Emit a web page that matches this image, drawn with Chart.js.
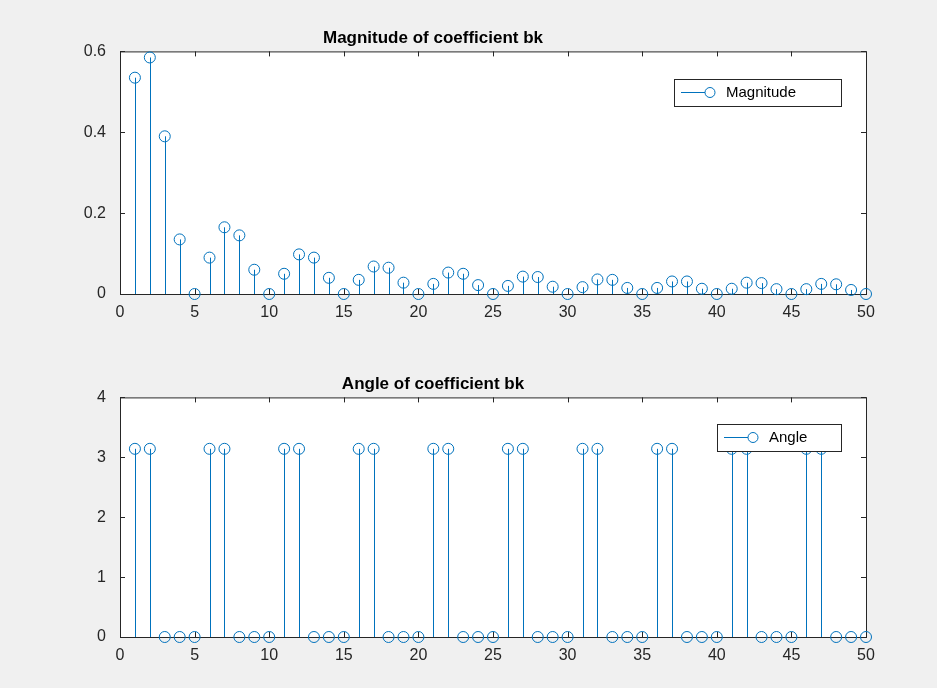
<!DOCTYPE html>
<html>
<head>
<meta charset="UTF-8">
<script src="https://cdn.jsdelivr.net/npm/chart.js"></script>
<style>
  body { margin: 0; background: #f0f0f0; }
  .wrap { position: absolute; left: 0; width: 937px; }
</style>
</head>
<body>
<div class="wrap" style="top:0;height:344px"><canvas id="magChart"></canvas></div>
<div class="wrap" style="top:344px;height:344px"><canvas id="angChart"></canvas></div>
<script>
const k = Array.from({length: 50}, (_, i) => i + 1);
const magnitude = [0.535, 0.585, 0.39, 0.135, 0, 0.09, 0.165, 0.145, 0.06, 0,
  0.05, 0.098, 0.09, 0.04, 0, 0.035, 0.068, 0.065, 0.028, 0,
  0.025, 0.053, 0.05, 0.022, 0, 0.02, 0.043, 0.042, 0.018, 0,
  0.017, 0.036, 0.035, 0.015, 0, 0.015, 0.031, 0.031, 0.013, 0,
  0.013, 0.028, 0.027, 0.012, 0, 0.012, 0.025, 0.024, 0.01, 0];
const PI = 3.1416;
const angle = [PI, PI, 0, 0, 0, PI, PI, 0, 0, 0,
  PI, PI, 0, 0, 0, PI, PI, 0, 0, 0,
  PI, PI, 0, 0, 0, PI, PI, 0, 0, 0,
  PI, PI, 0, 0, 0, PI, PI, 0, 0, 0,
  PI, PI, 0, 0, 0, PI, PI, 0, 0, 0];
const xTicks = [0, 5, 10, 15, 20, 25, 30, 35, 40, 45, 50];
const BLUE = '#0072bd';
const FONT = 'Liberation Sans, Arial, sans-serif';

const stemPlugin = {
  id: 'stem',
  beforeDraw(chart) {
    const {ctx, chartArea: a} = chart;
    ctx.save();
    ctx.fillStyle = '#fff';
    ctx.fillRect(a.left, a.top, a.right - a.left, a.bottom - a.top);
    ctx.restore();
  },
  beforeDatasetsDraw(chart) {
    const {ctx, chartArea: a, scales: {x, y}} = chart;
    ctx.save();
    ctx.strokeStyle = '#262626';
    ctx.lineWidth = 1;
    ctx.strokeRect(a.left + 0.5, a.top + 0.5, a.right - a.left, a.bottom - a.top);
    ctx.beginPath();
    x.ticks.forEach(t => {
      const px = Math.round(x.getPixelForValue(t.value)) + 0.5;
      ctx.moveTo(px, a.bottom); ctx.lineTo(px, a.bottom - 5);
      ctx.moveTo(px, a.top); ctx.lineTo(px, a.top + 5);
    });
    y.ticks.forEach(t => {
      const py = Math.round(y.getPixelForValue(t.value)) + 0.5;
      ctx.moveTo(a.left, py); ctx.lineTo(a.left + 5, py);
      ctx.moveTo(a.right, py); ctx.lineTo(a.right - 5, py);
    });
    ctx.stroke();
    const data = chart.data.datasets[0].data;
    ctx.strokeStyle = BLUE;
    data.forEach(p => {
      const px = Math.round(x.getPixelForValue(p.x)) + 0.5;
      ctx.beginPath();
      ctx.moveTo(px, y.getPixelForValue(0));
      ctx.lineTo(px, y.getPixelForValue(p.y));
      ctx.stroke();
    });
    ctx.restore();
  },
  afterDraw(chart, args, opts) {
    const {ctx} = chart;
    ctx.save();
    const lx = opts.x, ly = opts.y, lw = opts.w, lh = 27;
    ctx.fillStyle = '#fff';
    ctx.fillRect(lx, ly, lw, lh);
    ctx.strokeStyle = '#262626';
    ctx.strokeRect(lx + 0.5, ly + 0.5, lw, lh);
    ctx.strokeStyle = BLUE;
    ctx.beginPath();
    ctx.moveTo(lx + 7, ly + 13.5); ctx.lineTo(lx + 41, ly + 13.5);
    ctx.stroke();
    ctx.beginPath();
    ctx.arc(lx + 36, ly + 13.5, 5, 0, Math.PI * 2);
    ctx.fillStyle = '#fff'; ctx.fill(); ctx.stroke();
    ctx.fillStyle = '#000';
    ctx.font = '15px ' + FONT;
    ctx.textBaseline = 'middle';
    ctx.fillText(opts.label, lx + 52, ly + 14);
    ctx.restore();
  }
};

function makeChart(id, title, label, values, yMax, yStep, legend) {
  new Chart(document.getElementById(id), {
    type: 'scatter',
    data: {
      datasets: [{
        label: label,
        data: k.map((v, i) => ({x: v, y: values[i]})),
        pointStyle: 'circle',
        pointRadius: 5.5,
        pointBorderColor: BLUE,
        pointBackgroundColor: 'rgba(0,0,0,0)',
        pointBorderWidth: 1,
        showLine: false,
        clip: false
      }]
    },
    options: {
      responsive: true,
      maintainAspectRatio: false,
      animation: false,
      layout: {padding: {left: 0, right: 71, top: legend.top, bottom: 0}},
      plugins: {
        legend: {display: false},
        tooltip: {enabled: false},
        title: {display: true, text: title, color: '#000',
          font: {family: FONT, size: 17, weight: 'bold'}, padding: {top: 0, bottom: 3}},
        stem: legend
      },
      scales: {
        x: {
          type: 'linear', min: 0, max: 50,
          afterBuildTicks: s => { s.ticks = xTicks.map(v => ({value: v})); },
          grid: {display: false},
          border: {display: false},
          ticks: {color: '#262626', font: {family: FONT, size: 16}, padding: 1},
          afterFit: s => { s.height = legend.xh; }
        },
        y: {
          min: 0, max: yMax,
          ticks: {stepSize: yStep, color: '#262626', font: {family: FONT, size: 16}, padding: 6},
          grid: {display: false},
          border: {display: false},
          afterFit: s => { s.width = 120; }
        }
      }
    },
    plugins: [stemPlugin]
  });
}

makeChart('magChart', 'Magnitude of coefficient bk', 'Magnitude', magnitude, 0.6, 0.2,
  {top: 28, xh: 50, x: 674, y: 79, w: 167, label: 'Magnitude'});
makeChart('angChart', 'Angle of coefficient bk', 'Angle', angle, 4, 1,
  {top: 30, xh: 51, x: 717, y: 80, w: 124, label: 'Angle'});
</script>
</body>
</html>
